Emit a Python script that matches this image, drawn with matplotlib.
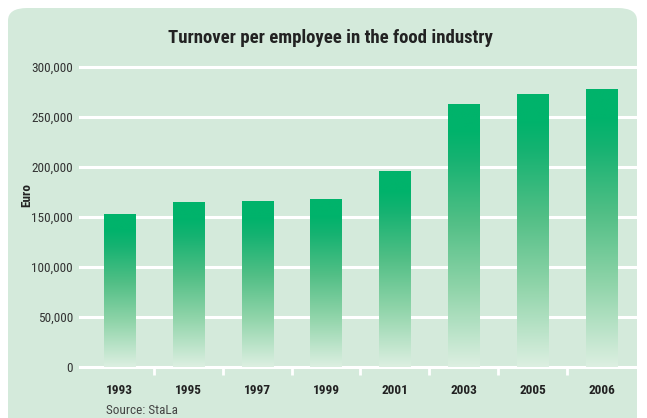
import numpy as np
import matplotlib.pyplot as plt
from matplotlib.patches import FancyBboxPatch
from matplotlib.colors import LinearSegmentedColormap

years = ["1993", "1995", "1997", "1999", "2001", "2003", "2005", "2006"]
turnover = [153000, 165000, 166000, 168000, 196000, 263000, 273000, 278000]
yticks = [0, 50000, 100000, 150000, 200000, 250000, 300000]

panel_col = "#d4eadb"
bar_top = "#00b36b"
plt.rcParams["font.family"] = ["Roboto Condensed", "DejaVu Sans"]

fig = plt.figure(figsize=(6.47, 4.18), dpi=100)
fig.patch.set_facecolor("white")
panel = FancyBboxPatch((8 / 647, -0.2), 637 / 647 - 8 / 647, 1.2 - 8 / 418,
                       boxstyle="round,pad=0,rounding_size=0.03",
                       transform=fig.transFigure, facecolor=panel_col,
                       edgecolor="none", zorder=-5)
fig.patches.append(panel)

ax = fig.add_axes([80 / 647, 1 - 367 / 418, 556 / 647, 300 / 418])
ax.set_facecolor("none")
ax.set_zorder(2)

x = np.arange(len(years))
bars = ax.bar(x, turnover, width=0.45, color="none", zorder=3)

# vertical fade: light at the bottom, full green near the top
cmap = LinearSegmentedColormap.from_list(
    "fade", [(0, "#dcefe1"), (0.3, "#8fd4a9"), (0.55, "#52bf86"),
             (0.8, "#14b271"), (0.9, bar_top), (1, bar_top)])
grad = np.linspace(0, 1, 256).reshape(-1, 1)
for b in bars:
    x0, w, h = b.get_x(), b.get_width(), b.get_height()
    im = ax.imshow(grad, extent=(x0, x0 + w, 0, h), origin="lower", cmap=cmap,
                   aspect="auto", zorder=3, interpolation="bilinear")
    im.set_clip_path(b)

ax.set_xlim(-0.57, 7.5)
ax.set_ylim(0, 300000)
ax.set_yticks(yticks)
ax.set_yticklabels([f"{v:,}" for v in yticks], fontsize=9.5, color="#333333")
for v in yticks:
    ax.axhline(v, color="white", lw=2.2, zorder=1, clip_on=False)

ax.set_xticks(x)
ax.set_xticklabels(years, fontsize=9.5, fontweight="bold", color="#222222")
ax.tick_params(axis="x", length=0, pad=12)
ax.tick_params(axis="y", length=0, pad=5)
ax.set_xticks(x[:-1] + 0.5, minor=True)
ax.tick_params(axis="x", which="minor", length=6, width=2, color="white", direction="out")
for s in ax.spines.values():
    s.set_visible(False)

fig.text(27 / 647, 1 - 195 / 418, "Euro", rotation=90, ha="center", va="center",
         fontsize=9.5, fontweight="bold", color="#222222")
fig.text(330 / 647, 1 - 38 / 418, "Turnover per employee in the food industry",
         ha="center", va="center", fontsize=13.5, fontweight="bold", color="#222222")
fig.text(106 / 647, 1 - 410 / 418, "Source: StaLa", ha="left", va="center",
         fontsize=9.5, color="#444444")

fig.savefig("out.png", dpi=100)
